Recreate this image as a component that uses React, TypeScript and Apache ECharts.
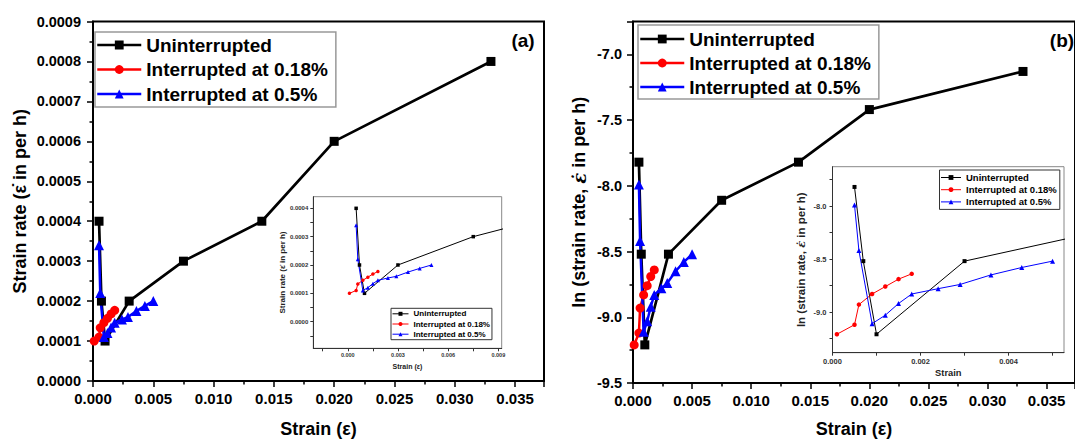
import React, { useEffect, useRef } from "react";
import * as echarts from "echarts";

const FONT = '"Liberation Sans", Arial, Helvetica, sans-serif';
const names = ["Uninterrupted", "Interrupted at 0.18%", "Interrupted at 0.5%"];

// Uninterrupted
const strainU = [0.0005, 0.0007, 0.001, 0.003, 0.0075, 0.014, 0.02, 0.033];
const rateU = [0.0004, 0.0002, 0.0001, 0.0002, 0.0003, 0.0004, 0.0006, 0.0008];
const lnRateU = [-7.82, -8.52, -9.21, -8.52, -8.11, -7.82, -7.42, -7.13];
// Interrupted at 0.18%
const strainR = [0.0001, 0.0005, 0.0006, 0.0009, 0.0012, 0.0015, 0.0018];
const rateR = [0.0001, 0.00011, 0.000133, 0.000146, 0.000157, 0.000168, 0.000177];
const lnRateR = [-9.21, -9.12, -8.93, -8.83, -8.76, -8.69, -8.64];
// Interrupted at 0.5%
const strainB = [0.0005, 0.0006, 0.0009, 0.0012, 0.0015, 0.0018, 0.0024, 0.0029, 0.0036, 0.0043, 0.005];
const rateB = [0.00034, 0.00022, 0.00011, 0.00012, 0.000134, 0.000146, 0.000154, 0.00016, 0.000175, 0.000188, 0.0002];
const lnRateB = [-7.99, -8.42, -9.11, -9.03, -8.92, -8.83, -8.78, -8.74, -8.65, -8.58, -8.52];

// inset tick positions / labels
const insetAxTicks = [-0.0015, 0, 0.0015, 0.003, 0.0045, 0.006, 0.0075, 0.009];
const insetAxLabels = [0, 0.003, 0.006, 0.009];
const insetAyTicks = [-0.00005, 0, 0.00005, 0.0001, 0.00015, 0.0002, 0.00025, 0.0003, 0.00035, 0.0004];
const insetAyLabels = [0, 0.0001, 0.0002, 0.0003, 0.0004];
const insetBxTicks = [0, 0.001, 0.002, 0.003, 0.004, 0.005];
const insetBxLabels = [0, 0.002, 0.004];
const insetByTicks = [-9.25, -9.0, -8.75, -8.5, -8.25, -8.0, -7.75];
const insetByLabels = [-9.0, -8.5, -8.0];

const pairs = (xs: number[], ys: number[]) => xs.map((x, i) => [x, ys[i]]);

function mkLine(name: string, data: number[][], color: string, symbol: string, size: number, width: number, axis: number) {
  return {
    type: "line",
    name,
    data,
    xAxisIndex: axis,
    yAxisIndex: axis,
    symbol,
    symbolSize: size,
    showSymbol: true,
    clip: true,
    silent: true,
    lineStyle: { color, width },
    itemStyle: { color, borderWidth: 0 },
    z: axis >= 2 ? 6 : 2,
  };
}

function mainAxis(opts: any) {
  return {
    type: "value",
    gridIndex: opts.grid,
    min: opts.min,
    max: opts.max,
    interval: opts.interval,
    name: opts.name,
    nameLocation: "middle",
    nameGap: opts.nameGap,
    nameTextStyle: {
      fontFamily: FONT,
      fontWeight: "bold",
      fontSize: 18,
      color: "#000",
      rich: opts.rich,
    },
    axisLine: { show: true, onZero: false, lineStyle: { color: "#000", width: 2 } },
    axisTick: { show: true, length: 6, lineStyle: { color: "#000", width: 1.5 } },
    minorTick: { show: true, splitNumber: 2, length: 3.5, lineStyle: { color: "#000", width: 1.5 } },
    splitLine: { show: false },
    minorSplitLine: { show: false },
    axisLabel: {
      fontFamily: FONT,
      fontWeight: "bold",
      fontSize: opts.fontSize,
      color: "#000",
      margin: opts.margin,
      showMaxLabel: opts.showMaxLabel,
      formatter: (v: number) => v.toFixed(opts.digits),
    },
  };
}

function insetAxis(opts: any) {
  return {
    type: "value",
    gridIndex: opts.grid,
    min: opts.min,
    max: opts.max,
    name: opts.name,
    nameLocation: "middle",
    nameGap: opts.nameGap,
    nameTextStyle: {
      fontFamily: FONT,
      fontWeight: "bold",
      fontSize: opts.nameSize,
      color: "#222",
      rich: opts.rich,
    },
    z: 5,
    axisLine: { show: true, onZero: false, lineStyle: { color: "#333", width: 1 } },
    axisTick: { show: true, length: 3, customValues: opts.ticks, lineStyle: { color: "#333", width: 1 } },
    splitLine: { show: false },
    axisLabel: {
      fontFamily: FONT,
      fontWeight: "bold",
      fontSize: opts.fontSize,
      color: "#333",
      margin: opts.margin,
      customValues: opts.labels,
      formatter: (v: number) => v.toFixed(opts.digits),
    },
  };
}

function legend(opts: any) {
  return {
    show: true,
    orient: "vertical",
    left: opts.left,
    top: opts.top,
    padding: opts.padding,
    itemGap: opts.itemGap,
    itemWidth: opts.itemWidth,
    itemHeight: opts.itemHeight,
    borderColor: opts.borderColor,
    borderWidth: opts.borderWidth,
    backgroundColor: "#fff",
    selectedMode: false,
    data: names,
    lineStyle: { width: opts.lineWidth },
    textStyle: {
      fontFamily: FONT,
      fontWeight: "bold",
      fontSize: opts.fontSize,
      lineHeight: opts.lineHeight,
      color: "#000",
    },
    z: 8,
  };
}

export default function App() {
  const ref = useRef<HTMLDivElement>(null);
  useEffect(() => {
    if (!ref.current) return;
    const chart = echarts.init(ref.current, undefined, { renderer: "svg" });
    const epsDot = "\u03B5\u0307";
    const option: any = {
      animation: false,
      backgroundColor: "#fff",
      grid: [
        { left: 93, top: 21.5, width: 451, height: 364.5, show: true, borderColor: "#000", borderWidth: 2, backgroundColor: "transparent" },
        { left: 633, top: 21.5, width: 452, height: 364.5, show: true, borderColor: "#000", borderWidth: 2, backgroundColor: "transparent" },
        { left: 313.3, top: 196.7, width: 188.4, height: 151.6, show: true, borderColor: "#888", borderWidth: 1, backgroundColor: "#fff", z: 4 },
        { left: 832.5, top: 166.7, width: 231.5, height: 186, show: true, borderColor: "#888", borderWidth: 1, backgroundColor: "#fff", z: 4 },
      ],
      xAxis: [
        mainAxis({ grid: 0, min: 0, max: 0.0374, interval: 0.005, name: "Strain (\u03B5)", nameGap: 39, fontSize: 15, margin: 10, digits: 3, showMaxLabel: false }),
        mainAxis({ grid: 1, min: 0, max: 0.0374, interval: 0.005, name: "Strain (\u03B5)", nameGap: 37, fontSize: 15, margin: 10, digits: 3, showMaxLabel: false }),
        insetAxis({ grid: 2, min: -0.00206, max: 0.0092, name: "Strain (\u03B5)", nameGap: 15, nameSize: 7, fontSize: 5.5, margin: 4, digits: 3, ticks: insetAxTicks, labels: insetAxLabels }),
        insetAxis({ grid: 3, min: 0, max: 0.00526, name: "Strain", nameGap: 16, nameSize: 9.3, fontSize: 7.5, margin: 5, digits: 3, ticks: insetBxTicks, labels: insetBxLabels }),
      ],
      yAxis: [
        mainAxis({ grid: 0, min: 0, max: 0.0009, interval: 0.0001, name: "Strain rate (" + epsDot + " in per h)", nameGap: 64, fontSize: 14.5, margin: 12, digits: 4 }),
        mainAxis({
          grid: 1, min: -9.5, max: -6.75, interval: 0.5,
          name: "ln (strain rate, {i|" + epsDot + "} in per h)", nameGap: 45, fontSize: 14.5, margin: 11, digits: 1, showMaxLabel: false,
          rich: { i: { fontFamily: "'DejaVu Serif', serif", fontStyle: "italic", fontWeight: "bold", fontSize: 18, color: "#000" } },
        }),
        insetAxis({ grid: 2, min: -0.000094, max: 0.000441, name: "Strain rate (" + epsDot + " in per h)", nameGap: 24, nameSize: 8, fontSize: 6, margin: 5, digits: 4, ticks: insetAyTicks, labels: insetAyLabels }),
        insetAxis({
          grid: 3, min: -9.384, max: -7.629, name: "ln (strain rate, {i|" + epsDot + "} in per h)", nameGap: 26, nameSize: 11.5, fontSize: 7.5, margin: 6, digits: 1, ticks: insetByTicks, labels: insetByLabels,
          rich: { i: { fontFamily: "'DejaVu Serif', serif", fontStyle: "italic", fontWeight: "bold", fontSize: 11.5, color: "#222" } },
        }),
      ],
      legend: [
        legend({ left: 95, top: 32, padding: [3, 8, 3, 1], itemGap: 4.5, itemWidth: 44, itemHeight: 11, fontSize: 19, lineHeight: 20, borderColor: "#999", borderWidth: 1.5, lineWidth: 2.5 }),
        legend({ left: 638, top: 25, padding: [4, 8, 2, 1], itemGap: 4, itemWidth: 44, itemHeight: 11, fontSize: 19, lineHeight: 20, borderColor: "#999", borderWidth: 1.5, lineWidth: 2.5 }),
        legend({ left: 391, top: 308.3, padding: [1, 2, 1, 1], itemGap: 1.2, itemWidth: 16, itemHeight: 5, fontSize: 8, lineHeight: 9, borderColor: "#333", borderWidth: 1, lineWidth: 1 }),
        legend({ left: 939.5, top: 170, padding: [2, 3, 2, 1], itemGap: 1.2, itemWidth: 20, itemHeight: 6, fontSize: 9.5, lineHeight: 11, borderColor: "#333", borderWidth: 1, lineWidth: 1 }),
      ],
      graphic: [
        { type: "text", z: 10, style: { text: "(a)", x: 523, y: 40, align: "center", verticalAlign: "middle", font: 'bold 19px "Liberation Sans", Arial, sans-serif', fill: "#000" } },
        { type: "text", z: 10, style: { text: "(b)", x: 1062, y: 40, align: "center", verticalAlign: "middle", font: 'bold 19px "Liberation Sans", Arial, sans-serif', fill: "#000" } },
      ],
      series: [
        mkLine(names[0], pairs(strainU, rateU), "#000000", "rect", 9, 2.7, 0),
        mkLine(names[1], pairs(strainR, rateR), "#ff0000", "circle", 9, 2.5, 0),
        mkLine(names[2], pairs(strainB, rateB), "#0000ff", "triangle", 10, 2.5, 0),
        mkLine(names[0], pairs(strainU, lnRateU), "#000000", "rect", 9, 2.7, 1),
        mkLine(names[1], pairs(strainR, lnRateR), "#ff0000", "circle", 9, 2.5, 1),
        mkLine(names[2], pairs(strainB, lnRateB), "#0000ff", "triangle", 10, 2.5, 1),
        mkLine(names[0], pairs(strainU, rateU), "#000000", "rect", 3.5, 1, 2),
        mkLine(names[1], pairs(strainR, rateR), "#ff0000", "circle", 3.5, 1, 2),
        mkLine(names[2], pairs(strainB, rateB), "#0000ff", "triangle", 4, 1, 2),
        mkLine(names[0], pairs(strainU, lnRateU), "#000000", "rect", 4, 1, 3),
        mkLine(names[1], pairs(strainR, lnRateR), "#ff0000", "circle", 4.5, 1, 3),
        mkLine(names[2], pairs(strainB, lnRateB), "#0000ff", "triangle", 5, 1, 3),
      ],
    };
    chart.setOption(option);
    return () => chart.dispose();
  }, []);
  return <div ref={ref} style={{ position: "absolute", left: 0, top: 0, width: 1075, height: 443 }} />;
}
